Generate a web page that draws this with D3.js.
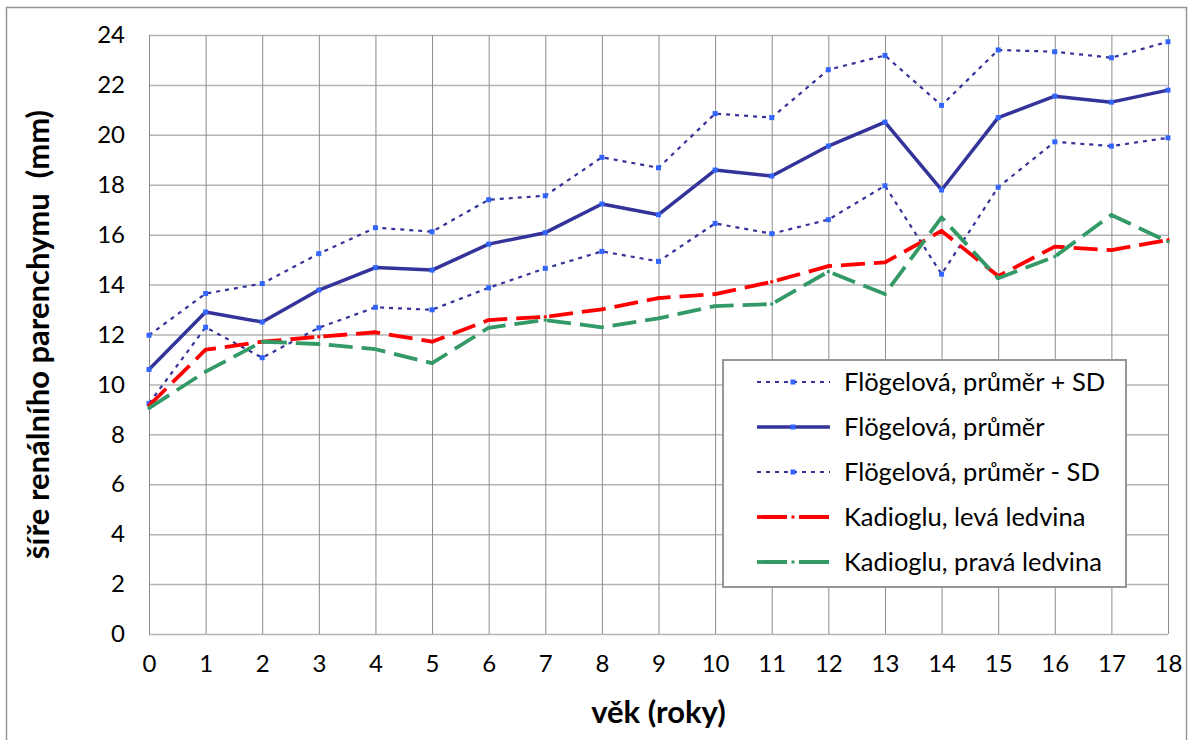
<!DOCTYPE html>
<html>
<head>
<meta charset="utf-8">
<script src="https://cdn.jsdelivr.net/npm/d3@7"></script>
<style>
    body { margin: 0; background: #fff; }
    text { font-family: Lato, "Open Sans", sans-serif; }
</style>
</head>
<body>
<div id="chart"></div>
<script>
// data
const ages = [0, 1, 2, 3, 4, 5, 6, 7, 8, 9, 10, 11, 12, 13, 14, 15, 16, 17, 18];
const yTicks = [0, 2, 4, 6, 8, 10, 12, 14, 16, 18, 20, 22, 24];
const plusSD = [11.97, 13.64, 14.04, 15.24, 16.28, 16.12, 17.4, 17.56, 19.1, 18.68, 20.85, 20.69, 22.61, 23.18, 21.18, 23.4, 23.33, 23.09, 23.73];
const meanVals = [10.6, 12.9, 12.5, 13.78, 14.68, 14.58, 15.62, 16.08, 17.23, 16.8, 18.59, 18.35, 19.55, 20.51, 17.79, 20.69, 21.55, 21.31, 21.79];
const minusSD = [9.24, 12.29, 11.07, 12.27, 13.09, 12.99, 13.87, 14.65, 15.33, 14.93, 16.45, 16.04, 16.6, 17.96, 14.42, 17.9, 19.72, 19.55, 19.88];
const leftKidney = [9.15, 11.39, 11.71, 11.91, 12.09, 11.71, 12.58, 12.71, 13.01, 13.46, 13.62, 14.11, 14.74, 14.89, 16.15, 14.34, 15.52, 15.38, 15.79];
const rightKidney = [9.05, 10.51, 11.71, 11.62, 11.41, 10.85, 12.27, 12.58, 12.29, 12.65, 13.14, 13.22, 14.52, 13.62, 16.69, 14.25, 15.12, 16.79, 15.72];
const seriesNames = ["Flögelová, průměr + SD", "Flögelová, průměr", "Flögelová, průměr - SD", "Kadioglu, levá ledvina", "Kadioglu, pravá ledvina"];

// line styles per series
const series = [
    { name: seriesNames[0], values: plusSD, color: "#333399", width: 2.2, dash: "4,5", marker: "#3366ff", msize: 5 },
    { name: seriesNames[1], values: meanVals, color: "#333399", width: 3.5, dash: null, marker: "#3366ff", msize: 5 },
    { name: seriesNames[2], values: minusSD, color: "#333399", width: 2.2, dash: "4,5", marker: "#3366ff", msize: 5 },
    { name: seriesNames[3], values: leftKidney, color: "#ff0000", width: 3.8, dash: "24,9", marker: "#ff0000", msize: 3 },
    { name: seriesNames[4], values: rightKidney, color: "#339966", width: 3.8, dash: "24,9", marker: "#339966", msize: 3 }
];

const W = 1192, H = 740;
const margin = { top: 35, right: 24, bottom: 106, left: 149 };
const width = W - margin.left - margin.right;
const height = H - margin.top - margin.bottom;

const svg = d3.select("#chart").append("svg")
    .attr("width", W)
    .attr("height", H);

// outer chart border
svg.append("rect")
    .attr("x", 6.5).attr("y", 7.5)
    .attr("width", 1180).attr("height", 745)
    .attr("fill", "none")
    .attr("stroke", "#969696")
    .attr("stroke-width", 1.5);

const g = svg.append("g")
    .attr("transform", `translate(${margin.left},${margin.top})`);

// scales
const x = d3.scaleLinear().domain([0, 18]).range([0, width]);
const y = d3.scaleLinear().domain([0, 24]).range([height, 0]);

// horizontal gridlines
g.append("g")
    .call(d3.axisLeft(y).tickValues(yTicks).tickSize(-width).tickFormat(""))
    .call(a => a.select(".domain").remove())
    .call(a => a.selectAll("line").attr("stroke", "#b4b4b4").attr("stroke-width", 1.5));

// vertical gridlines
g.append("g")
    .attr("transform", `translate(0,${height})`)
    .call(d3.axisBottom(x).tickValues(ages).tickSize(-height).tickFormat(""))
    .call(a => a.select(".domain").remove())
    .call(a => a.selectAll("line").attr("stroke", "#8c8c8c").attr("stroke-width", 1));

// y axis labels
g.append("g")
    .call(d3.axisLeft(y).tickValues(yTicks).tickSize(0).tickPadding(24))
    .call(a => a.select(".domain").remove())
    .call(a => a.selectAll("text")
        .attr("fill", "#000")
        .attr("font-size", "24px")
        .attr("font-family", "Lato, sans-serif"));

// x axis labels
g.append("g")
    .attr("transform", `translate(0,${height})`)
    .call(d3.axisBottom(x).tickValues(ages).tickSize(0).tickPadding(38))
    .call(a => a.select(".domain").remove())
    .call(a => a.selectAll("text")
        .attr("fill", "#000")
        .attr("font-size", "24px")
        .attr("dy", "0")
        .attr("font-family", "Lato, sans-serif"));

// axis titles
svg.append("text")
    .attr("x", margin.left + width / 2)
    .attr("y", 723)
    .attr("text-anchor", "middle")
    .attr("font-size", "31px")
    .attr("font-weight", "bold")
    .text("věk (roky)");

svg.append("text")
    .attr("transform", "rotate(-90)")
    .attr("x", -(margin.top + height / 2))
    .attr("y", 49)
    .attr("text-anchor", "middle")
    .attr("font-size", "31px")
    .attr("font-weight", "bold")
    .style("white-space", "pre")
    .text("šíře renálního parenchymu  (mm)");

// lines
const line = d3.line()
    .x((d, i) => x(ages[i]))
    .y(d => y(d));

series.forEach(s => {
    g.append("path")
        .datum(s.values)
        .attr("fill", "none")
        .attr("stroke", s.color)
        .attr("stroke-width", s.width)
        .attr("stroke-dasharray", s.dash)
        .attr("stroke-linejoin", "round")
        .attr("d", line);

    g.selectAll(null)
        .data(s.values)
        .enter()
        .append("rect")
        .attr("x", (d, i) => x(ages[i]) - s.msize / 2)
        .attr("y", d => y(d) - s.msize / 2)
        .attr("width", s.msize)
        .attr("height", s.msize)
        .attr("fill", s.marker);
});

// legend
const legend = svg.append("g").attr("transform", "translate(723,360)");
legend.append("rect")
    .attr("width", 403).attr("height", 227)
    .attr("fill", "#fff")
    .attr("stroke", "#969696")
    .attr("stroke-width", 2);

series.forEach((s, i) => {
    const row = legend.append("g").attr("transform", `translate(0,${22 + i * 45})`);
    row.append("line")
        .attr("x1", 34).attr("x2", 107)
        .attr("stroke", s.color)
        .attr("stroke-width", s.width)
        .attr("stroke-dasharray", s.dash ? (i < 3 ? "4,5" : "30,12") : null);
    row.append("rect")
        .attr("x", 70 - s.msize / 2).attr("y", -s.msize / 2)
        .attr("width", s.msize).attr("height", s.msize)
        .attr("fill", s.marker);
    row.append("text")
        .attr("x", 121)
        .attr("y", 0)
        .attr("dy", "0.35em")
        .attr("font-size", "25.5px")
        .text(s.name);
});
</script>
</body>
</html>
